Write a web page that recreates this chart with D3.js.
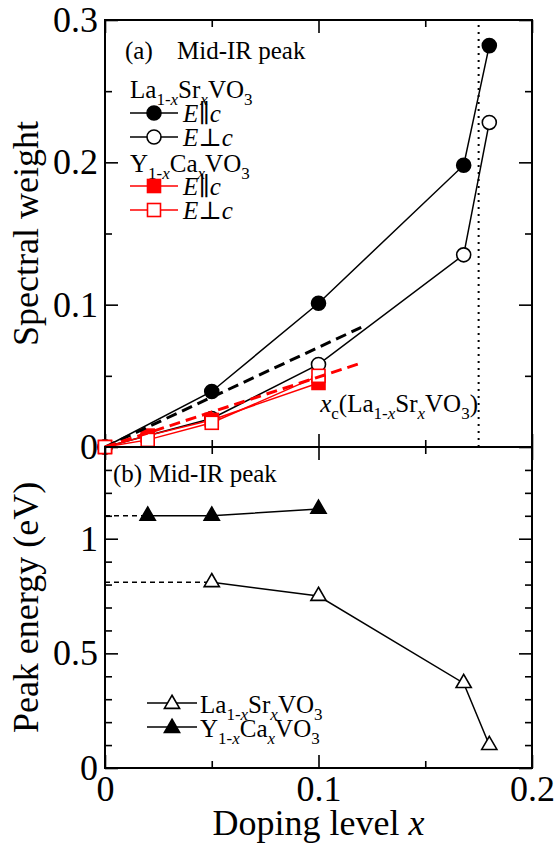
<!DOCTYPE html>
<html>
<head>
<meta charset="utf-8">
<script src="https://cdn.jsdelivr.net/npm/d3@7"></script>
<style>
body { margin: 0; background: #fff; }
svg, svg text { font-family: "Liberation Serif", "Times New Roman", Times, "DejaVu Serif", serif; }
svg { display: block; }
.axis line { stroke: #000; stroke-width: 1.6; }
.axis text { fill: #000; }
</style>
</head>
<body>
<div id="chart"></div>
<script>
// panel (a): spectral weight of the mid-IR peak
const doping_la = [0, 0.05, 0.1, 0.168, 0.18];
const weight_la_par = [0, 0.039, 0.101, 0.198, 0.282];
const weight_la_perp = [0, 0.02, 0.058, 0.135, 0.228];
const doping_y = [0, 0.02, 0.05, 0.1];
const weight_y_par = [0, 0.008, 0.019, 0.045];
const weight_y_perp = [0, 0.005, 0.017, 0.05];
// dashed guide lines (start, end)
const guide_x = [0, 0.12];
const guide_la = [0, 0.084];
const guide_y = [0, 0.059];
const xc_la = 0.175;

// panel (b): peak energy
const peak_doping_la = [0.05, 0.1, 0.168, 0.18];
const peak_la = [0.81, 0.75, 0.37, 0.10];
const peak_doping_y = [0.02, 0.05, 0.1];
const peak_y = [1.1, 1.1, 1.13];

// ticks
const x_major = [0, 0.1, 0.2], x_minor = [0.05, 0.15];
const ya_major = [0, 0.1, 0.2, 0.3], ya_minor = [0.05, 0.15, 0.25];
const yb_major = [0, 0.5, 1], yb_minor = [0.1, 0.2, 0.3, 0.4, 0.6, 0.7, 0.8, 0.9, 1.1, 1.2, 1.3];

const FONT = '"Liberation Serif", "Times New Roman", Times, "DejaVu Serif", serif';
const RED = "#ff0000";

let svg_width = 555, svg_height = 846;
let svg = d3.select("#chart").append("svg")
    .attr("width", svg_width)
    .attr("height", svg_height)
    .attr("font-family", FONT);

let x = d3.scaleLinear().domain([0, 0.2]).range([105, 532]);
let y_a = d3.scaleLinear().domain([0, 0.3]).range([447, 20]);
let y_b = d3.scaleLinear().domain([0, 1.4]).range([768, 447]);

function tick_axis(axis_fn, scale, values, size, labels) {
    return axis_fn(scale)
        .tickValues(values)
        .tickSizeInner(-size)
        .tickSizeOuter(0)
        .tickPadding(7)
        .tickFormat(labels ? d3.format("~g") : "");
}

function add_axis(tx, ty, axis) {
    svg.append("g")
        .attr("class", "axis")
        .attr("transform", "translate(" + tx + "," + ty + ")")
        .call(axis)
        .attr("font-size", 36)
        .attr("font-family", FONT)
        .call(g => g.select(".domain").remove());
}

function panel_axes(y, y_major, y_minor, x_labels) {
    const [bot, top] = y.range();
    const [left, right] = x.range();
    add_axis(0, bot, tick_axis(d3.axisBottom, x, x_major, 13, x_labels));
    add_axis(0, bot, tick_axis(d3.axisBottom, x, x_minor, 7, false));
    add_axis(0, top, tick_axis(d3.axisTop, x, x_major, 13, false));
    add_axis(0, top, tick_axis(d3.axisTop, x, x_minor, 7, false));
    add_axis(left, 0, tick_axis(d3.axisLeft, y, y_major, 13, true));
    add_axis(left, 0, tick_axis(d3.axisLeft, y, y_minor, 7, false));
    add_axis(right, 0, tick_axis(d3.axisRight, y, y_major, 13, false));
    add_axis(right, 0, tick_axis(d3.axisRight, y, y_minor, 7, false));
    svg.append("rect")
        .attr("x", left).attr("y", top)
        .attr("width", right - left).attr("height", bot - top)
        .attr("fill", "none").attr("stroke", "#000").attr("stroke-width", 2);
}

// text with italic / subscript pieces: [text, kind] kind = n, i, s, si
function rich(sel, parts, size) {
    let shift = 0;
    for (const [t, k] of parts) {
        let sub = k[0] === "s";
        let target = sub ? size * 0.28 : 0;
        sel.append("tspan")
            .attr("dy", target - shift)
            .attr("font-size", sub ? size * 0.68 : size)
            .attr("font-style", k.includes("i") ? "italic" : null)
            .text(t);
        shift = target;
    }
    return sel;
}

function draw_marker(g, kind, color, cx, cy) {
    const fill = kind.startsWith("open") ? "#fff" : color;
    if (kind.endsWith("circle")) {
        g.append("circle").attr("cx", cx).attr("cy", cy).attr("r", 7)
            .attr("fill", fill).attr("stroke", color).attr("stroke-width", 1.6);
    } else if (kind.endsWith("square")) {
        g.append("rect").attr("x", cx - 6.5).attr("y", cy - 6.5)
            .attr("width", 13).attr("height", 13)
            .attr("fill", fill).attr("stroke", color).attr("stroke-width", 1.6);
    } else {
        g.append("path").attr("d", d3.symbol(d3.symbolTriangle, 100)())
            .attr("transform", "translate(" + cx + "," + cy + ")")
            .attr("fill", fill).attr("stroke", color).attr("stroke-width", 1.6);
    }
}

function series(y, xs, ys, kind, color) {
    let g = svg.append("g");
    const pts = d3.zip(xs, ys);
    g.append("path")
        .datum(pts)
        .attr("fill", "none")
        .attr("stroke", color)
        .attr("stroke-width", 1.5)
        .attr("d", d3.line().x(d => x(d[0])).y(d => y(d[1])));
    for (const d of pts) draw_marker(g, kind, color, x(d[0]), y(d[1]));
}

function guide(y, xs, ys, color, width, dash) {
    svg.append("path")
        .datum(d3.zip(xs, ys))
        .attr("fill", "none")
        .attr("stroke", color)
        .attr("stroke-width", width)
        .attr("stroke-dasharray", dash)
        .attr("d", d3.line().x(d => x(d[0])).y(d => y(d[1])));
}

// ---- panel (a)
panel_axes(y_a, ya_major, ya_minor, false);

guide(y_a, [xc_la, xc_la], y_a.domain(), "#000", 2, "2,5");

series(y_a, doping_la, weight_la_par, "circle", "#000");
series(y_a, doping_la, weight_la_perp, "open circle", "#000");
series(y_a, doping_y, weight_y_par, "square", RED);
series(y_a, doping_y, weight_y_perp, "open square", RED);

guide(y_a, guide_x, guide_la, "#000", 3, "11,6");
guide(y_a, guide_x, guide_y, RED, 3, "11,6");

svg.append("text").attr("x", 125).attr("y", 59).attr("font-size", 25).text("(a)");
svg.append("text").attr("x", 177).attr("y", 59).attr("font-size", 25).text("Mid-IR peak");

rich(svg.append("text").attr("x", 130).attr("y", 98),
    [["La", "n"], ["1-", "s"], ["x", "si"], ["Sr", "n"], ["x", "si"], ["VO", "n"], ["3", "s"]], 25);
rich(svg.append("text").attr("x", 130).attr("y", 172),
    [["Y", "n"], ["1-", "s"], ["x", "si"], ["Ca", "n"], ["x", "si"], ["VO", "n"], ["3", "s"]], 25);

const legend_a = [
    ["circle", "#000", 113, "\u2225"],
    ["open circle", "#000", 137, "\u22a5"],
    ["square", RED, 186, "\u2225"],
    ["open square", RED, 210, "\u22a5"]
];
for (const [kind, color, ly, sym] of legend_a) {
    let g = svg.append("g");
    g.append("line").attr("x1", 130).attr("x2", 178).attr("y1", ly).attr("y2", ly)
        .attr("stroke", color).attr("stroke-width", 1.5);
    draw_marker(g, kind, color, 154, ly);
    rich(svg.append("text").attr("x", 183).attr("y", ly + 9),
        [["E", "i"], [sym, "n"], ["c", "i"]], 25);
}

rich(svg.append("text").attr("x", 478).attr("y", 412).attr("text-anchor", "end"),
    [["x", "i"], ["c", "s"], ["(La", "n"], ["1-", "s"], ["x", "si"], ["Sr", "n"],
     ["x", "si"], ["VO", "n"], ["3", "s"], [")", "n"]], 25);

// ---- panel (b)
panel_axes(y_b, yb_major, yb_minor, true);

guide(y_b, [0, peak_doping_la[0]], [peak_la[0], peak_la[0]], "#000", 1.4, "5,4");
guide(y_b, [0, peak_doping_y[0]], [peak_y[0], peak_y[0]], "#000", 1.4, "5,4");

series(y_b, peak_doping_la, peak_la, "open triangle", "#000");
series(y_b, peak_doping_y, peak_y, "triangle", "#000");

svg.append("text").attr("x", 113).attr("y", 482).attr("font-size", 25).text("(b) Mid-IR peak");

const legend_b = [
    ["open triangle", 703, [["La", "n"], ["1-", "s"], ["x", "si"], ["Sr", "n"], ["x", "si"], ["VO", "n"], ["3", "s"]]],
    ["triangle", 727, [["Y", "n"], ["1-", "s"], ["x", "si"], ["Ca", "n"], ["x", "si"], ["VO", "n"], ["3", "s"]]]
];
for (const [kind, ly, parts] of legend_b) {
    let g = svg.append("g");
    g.append("line").attr("x1", 147).attr("x2", 197).attr("y1", ly).attr("y2", ly)
        .attr("stroke", "#000").attr("stroke-width", 1.5);
    draw_marker(g, kind, "#000", 172, ly + 1);
    rich(svg.append("text").attr("x", 200).attr("y", ly + 10), parts, 25);
}

// axis titles
svg.append("text")
    .attr("transform", "translate(38," + (y_a.range()[0] + y_a.range()[1]) / 2 + ") rotate(-90)")
    .attr("text-anchor", "middle")
    .attr("font-size", 36)
    .text("Spectral weight");
svg.append("text")
    .attr("transform", "translate(38," + (y_b.range()[0] + y_b.range()[1]) / 2 + ") rotate(-90)")
    .attr("text-anchor", "middle")
    .attr("font-size", 36)
    .text("Peak energy (eV)");
rich(svg.append("text")
        .attr("x", (x.range()[0] + x.range()[1]) / 2)
        .attr("y", 835)
        .attr("text-anchor", "middle"),
    [["Doping level ", "n"], ["x", "i"]], 36);
</script>
</body>
</html>
